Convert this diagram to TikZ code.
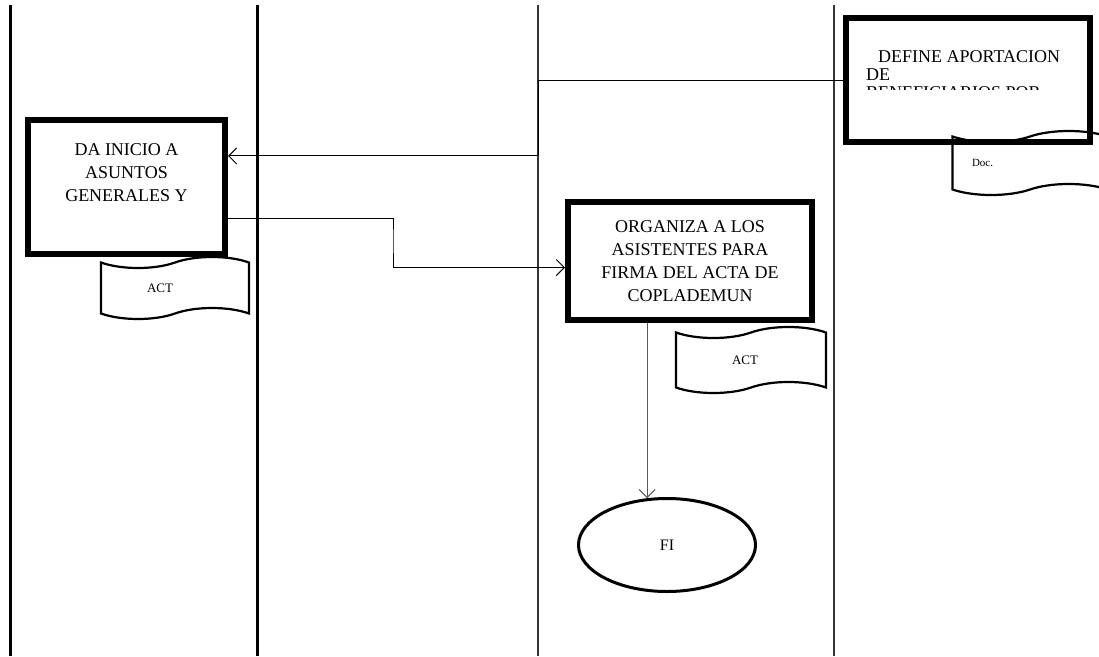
\documentclass[tikz,border=0pt]{standalone}
\usepackage{fontspec}
\setmainfont{Liberation Serif}
\usepackage{tikz}
\usetikzlibrary{arrows.meta,positioning,calc,shapes.geometric,shapes.symbols}
\tikzset{
  lane/.style={line width=3pt},
  thinlane/.style={line width=1.3pt, black!80},
  actbox/.style={draw, line width=6pt, align=center, inner sep=0pt,
                 font=\fontsize{18}{23}\selectfont},
  docbox/.style={draw, tape, line width=2.2pt, inner sep=0pt,
                 tape bend top=in and out, tape bend bottom=in and out,
                 tape bend height=11pt, font=\fontsize{13}{15}\selectfont},
  endbox/.style={draw, ellipse, line width=3pt, minimum width=177pt,
                 minimum height=93pt, font=\fontsize{16}{18}\selectfont},
  flow/.style={-{Straight Barb[length=8pt,width=16pt]}, line width=1pt},
}

\begin{document}
\begin{tikzpicture}[x=1pt, y=-1pt]
  \useasboundingbox (0,0) rectangle (1099,656);
  \clip (0,0) rectangle (1099,656);
  % lanes
  \coordinate (l1) at (10,5);
  \coordinate (l2) at (257,5);
  \coordinate (l3) at (538,5);
  \coordinate (l4) at (834,5);
  \draw[lane] (l1) -- ++(0,651);
  \draw[lane] (l2) -- ++(0,651);
  \draw[thinlane] (l3) -- ++(0,651);
  \draw[thinlane] (l4) -- ++(0,651);

  \node[actbox, minimum width=244pt, minimum height=124pt] (def) at (968,80) {};
  \begin{scope}
    \clip (846,18) rectangle (1090,89);
    \node[anchor=north west, inner sep=0pt, align=left,
          font=\fontsize{18}{18}\selectfont] (deftext) at (866,50)
      {\hspace*{12pt}DEFINE APORTACION\\DE\\BENEFICIARIOS POR};
  \end{scope}
  \node[docbox, minimum width=155pt, minimum height=64pt, text width=140pt,
        align=left, font=\fontsize{11}{13}\selectfont] (doc) at (1030,163)
    {\hspace*{12pt}Doc.};

  \node[actbox, minimum width=197pt, minimum height=134pt] (dai) at (126.5,187)
    {DA INICIO A\\ASUNTOS\\GENERALES Y\\\strut};
  \node[docbox, minimum width=148pt, minimum height=62pt] (act1) at (175,288)
    {ACT\hspace*{30pt}};

  \node[actbox, minimum width=244pt, minimum height=118pt] (org) at (690,261)
    {ORGANIZA A LOS\\ASISTENTES PARA\\FIRMA DEL ACTA DE\\COPLADEMUN};
  \node[docbox, minimum width=150pt, minimum height=66pt] (act2) at (751,360)
    {ACT\hspace*{12pt}};

  \node[endbox] (fin) at (667,545) {FI};

  \coordinate (k2) at (393,240);
  \draw[flow] (def.west) -| (l3 |- dai.17) -- (dai.17);
  \draw[flow] (dai.-17) -| (k2) |- (org.183);
  \draw[flow, black!65] (org.south -| fin.113) -- (fin.113);
\end{tikzpicture}
\end{document}
